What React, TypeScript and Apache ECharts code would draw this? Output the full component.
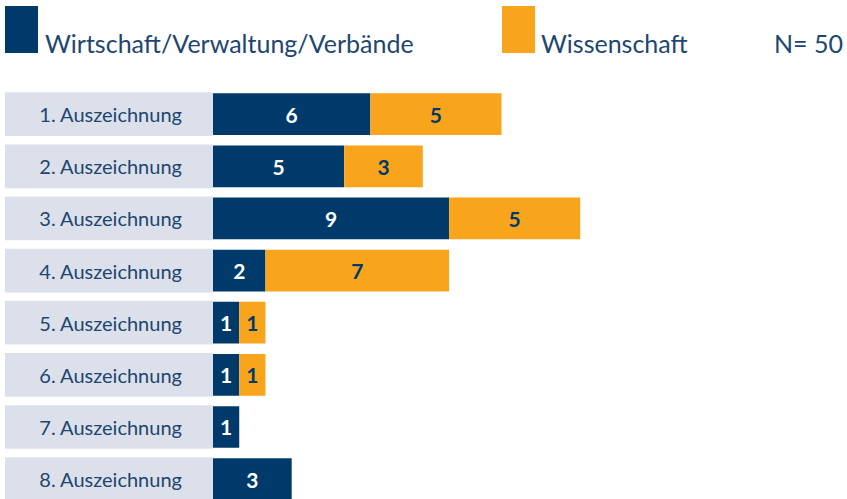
import React, { useEffect, useRef } from "react";
import * as echarts from "echarts";

const categories = [
  "1. Auszeichnung",
  "2. Auszeichnung",
  "3. Auszeichnung",
  "4. Auszeichnung",
  "5. Auszeichnung",
  "6. Auszeichnung",
  "7. Auszeichnung",
  "8. Auszeichnung",
];
const wirtschaft = [6, 5, 9, 2, 1, 1, 1, 3];
const wissenschaft = [5, 3, 5, 7, 1, 1, 0, 0];
const seriesNames = ["Wirtschaft/Verwaltung/Verbände", "Wissenschaft"];
const nLabel = "N= 50";

const BLUE = "#003a6a";
const ORANGE = "#f8a51d";
const TEXT = "#1d4670";
const BOX = "#dce0ea";
const FONT = "Lato, 'Noto Sans', sans-serif";

export default function App() {
  const ref = useRef<HTMLDivElement>(null);
  useEffect(() => {
    if (!ref.current) return;
    const chart = echarts.init(ref.current, null, { renderer: "svg" });
    const legendText = (x: number, text: string, align = "left") => ({
      type: "text",
      x,
      y: 43,
      style: {
        text,
        fontFamily: FONT,
        fontSize: 25,
        fill: TEXT,
        align,
        verticalAlign: "middle",
      },
    });
    chart.setOption({
      animation: false,
      backgroundColor: "#ffffff",
      textStyle: { fontFamily: FONT },
      graphic: [
        { type: "rect", shape: { x: 5, y: 6, width: 33, height: 47 }, style: { fill: BLUE } },
        legendText(45, seriesNames[0]),
        { type: "rect", shape: { x: 502, y: 6, width: 33, height: 47 }, style: { fill: ORANGE } },
        legendText(541, seriesNames[1]),
        legendText(843, nLabel, "right"),
      ],
      grid: {
        left: 213,
        top: 88.1,
        width: 629.5,
        height: 417.1,
        containLabel: false,
      },
      xAxis: {
        type: "value",
        min: 0,
        max: 24,
        interval: 1,
        show: false,
      },
      yAxis: {
        type: "category",
        data: categories,
        inverse: true,
        axisLine: { show: false },
        axisTick: { show: false },
        splitLine: { show: false },
        axisLabel: {
          margin: 0,
          fontFamily: FONT,
          fontSize: 20,
          color: TEXT,
          backgroundColor: BOX,
          width: 177,
          height: 41.7,
          lineHeight: 41.7,
          align: "right",
          padding: [2, 31, 0, 0],
        },
      },
      series: [
        {
          name: seriesNames[0],
          type: "bar",
          stack: "total",
          data: wirtschaft,
          barWidth: 41.7,
          itemStyle: { color: BLUE },
          label: {
            show: true,
            position: "inside",
            color: "#ffffff",
            fontFamily: FONT,
            fontWeight: "bold",
            fontSize: 21,
            formatter: (p: any) => (p.value ? String(p.value) : ""),
          },
        },
        {
          name: seriesNames[1],
          type: "bar",
          stack: "total",
          data: wissenschaft,
          barWidth: 41.7,
          itemStyle: { color: ORANGE },
          label: {
            show: true,
            position: "inside",
            color: BLUE,
            fontFamily: FONT,
            fontWeight: "bold",
            fontSize: 21,
            formatter: (p: any) => (p.value ? String(p.value) : ""),
          },
        },
      ],
    });
    return () => chart.dispose();
  }, []);
  return (
    <div
      ref={ref}
      style={{ position: "fixed", left: 0, top: 0, width: 847, height: 510 }}
    />
  );
}
